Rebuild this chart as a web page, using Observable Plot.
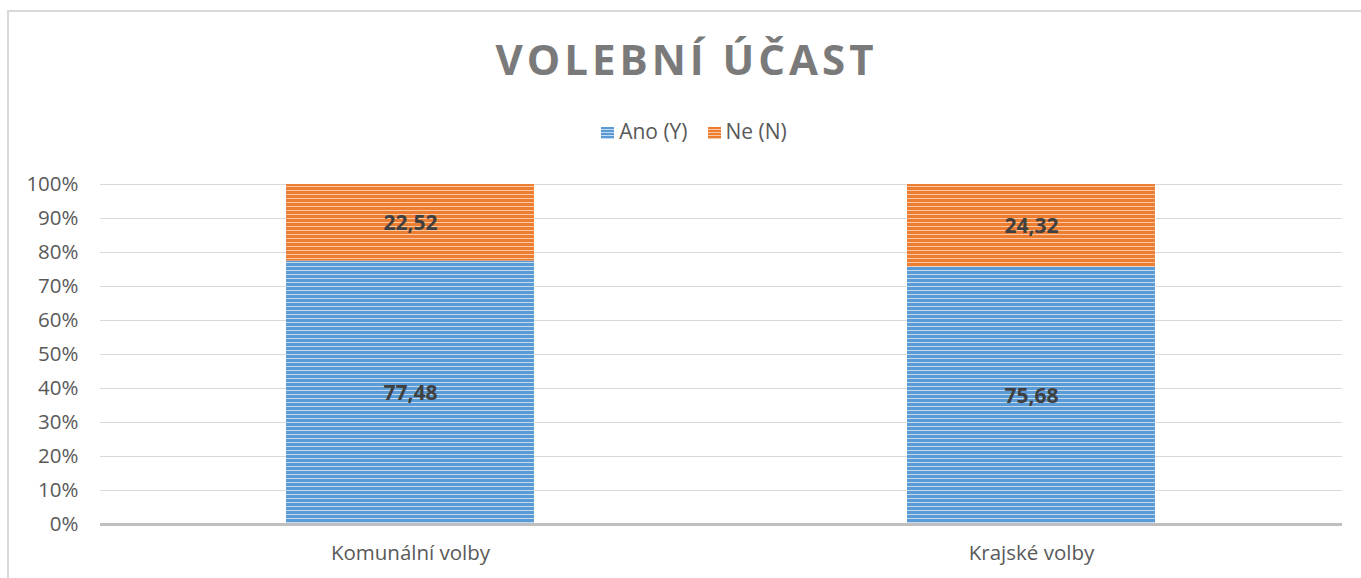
<!DOCTYPE html>
<html>
<head>
<meta charset="utf-8">
<script src="https://cdn.jsdelivr.net/npm/d3@7"></script>
<script src="https://cdn.jsdelivr.net/npm/@observablehq/plot@0.6"></script>
<style>
  html, body { margin: 0; padding: 0; background: #fff; }
  #wrap { position: relative; width: 1361px; height: 578px; overflow: hidden; font-family: "Open Sans", sans-serif; }
  #frame { position: absolute; left: 7px; top: 10px; width: 1400px; height: 600px; border-left: 2px solid #d9d9d9; border-top: 2px solid #d9d9d9; box-sizing: border-box; }
  #title { position: absolute; left: 0; width: 1361px; top: 31px; text-align: center; font-weight: 700; font-size: 42px; letter-spacing: 4px; color: #7a7a7a; line-height: 56px; padding-left: 12px; box-sizing: border-box; }
  #legend { position: absolute; left: 0; width: 1361px; top: 116px; text-align: center; font-size: 21px; color: #595959; line-height: 30px; padding-left: 27px; box-sizing: border-box; }
  #legend span.item { display: inline-block; margin: 0 10px; }
  #legend span.sw { display: inline-block; width: 13px; height: 12px; margin-right: 5px; vertical-align: 0px; }
  #chart { position: absolute; left: 0; top: 160px; }
</style>
</head>
<body>
<div id="wrap">
  <div id="frame"></div>
  <div id="title">VOLEBNÍ ÚČAST</div>
  <div id="legend"></div>
  <div id="chart"></div>
</div>
<script>
const categories = ["Komunální volby", "Krajské volby"];
const seriesNames = ["Ano (Y)", "Ne (N)"];
const anoValues = [77.48, 75.68];
const neValues = [22.52, 24.32];
const yTicks = [0, 10, 20, 30, 40, 50, 60, 70, 80, 90, 100];
const seriesColors = ["#5B9BD5", "#ED7D31"];
const seriesLight = ["#c3d9ef", "#f8c7a4"];

const data = [];
categories.forEach((c, i) => {
  data.push({cat: c, series: seriesNames[0], value: anoValues[i]});
  data.push({cat: c, series: seriesNames[1], value: neValues[i]});
});

const fmt = v => v.toFixed(2).replace(".", ",");

const plot = Plot.plot({
  width: 1361,
  height: 418,
  marginLeft: 100,
  marginRight: 19,
  marginTop: 24,
  marginBottom: 54,
  style: { fontFamily: "'Open Sans', sans-serif", fontSize: "20.5px", color: "#595959", background: "transparent" },
  x: { domain: categories, label: null, paddingInner: 0.6, paddingOuter: 0.3, tickSize: 0, tickPadding: 21 },
  y: { domain: [0, 100], ticks: yTicks, tickFormat: d => d + "%", label: null, tickSize: 0, tickPadding: 22 },
  color: { domain: seriesNames, range: ["url(#patBlue)", "url(#patOrange)"] },
  marks: [
    Plot.gridY(yTicks.filter(t => t > 0), { stroke: "#d9d9d9", strokeOpacity: 1, strokeWidth: 1 }),
    Plot.barY(data, Plot.stackY({ x: "cat", y: "value", fill: "series", inset: 0 })),
    Plot.ruleY([0], { stroke: "#bfbfbf", strokeWidth: 3 }),
    Plot.text(data, Plot.stackY({ x: "cat", y: "value", z: "series", text: d => fmt(d.value), fill: "#404040", fontWeight: "bold", fontSize: 21 }))
  ]
});

// pattern defs for striped fills
const ns = "http://www.w3.org/2000/svg";
const defs = document.createElementNS(ns, "defs");
[["patBlue", 0], ["patOrange", 1]].forEach(([id, k]) => {
  const p = document.createElementNS(ns, "pattern");
  p.setAttribute("id", id);
  p.setAttribute("patternUnits", "userSpaceOnUse");
  p.setAttribute("width", 8);
  p.setAttribute("height", 4);
  const r1 = document.createElementNS(ns, "rect");
  r1.setAttribute("width", 8); r1.setAttribute("height", 4); r1.setAttribute("fill", seriesColors[k]);
  const r2 = document.createElementNS(ns, "rect");
  r2.setAttribute("y", 2); r2.setAttribute("width", 8); r2.setAttribute("height", 1); r2.setAttribute("fill", seriesLight[k]);
  p.appendChild(r1); p.appendChild(r2);
  defs.appendChild(p);
});
plot.insertBefore(defs, plot.firstChild);
document.getElementById("chart").appendChild(plot);

const legend = document.getElementById("legend");
seriesNames.forEach((n, i) => {
  const item = document.createElement("span");
  item.className = "item";
  const sw = document.createElement("span");
  sw.className = "sw";
  sw.style.background = `repeating-linear-gradient(to bottom, ${seriesColors[i]} 0px, ${seriesColors[i]} 2px, ${seriesLight[i]} 2px, ${seriesLight[i]} 3px)`;
  item.appendChild(sw);
  item.appendChild(document.createTextNode(n));
  legend.appendChild(item);
});
</script>
</body>
</html>
